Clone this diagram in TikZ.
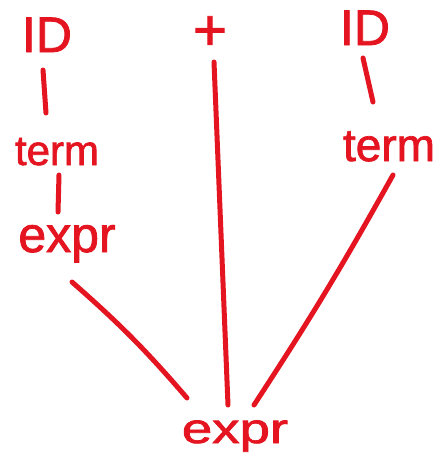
\documentclass[tikz,border=0pt]{standalone}
\usepackage{fontspec}
\setmainfont{Liberation Sans}[BoldFont=Liberation Sans,BoldFeatures={FakeBold=1.6}]
\usetikzlibrary{calc}
\definecolor{ink}{RGB}{228,20,32}
\begin{document}
\begin{tikzpicture}[x=1pt,y=-1pt,
  sym/.style={text=ink,inner sep=0pt,anchor=base},
  edge/.style={draw=ink,line width=5pt,line cap=round}]
\useasboundingbox (0,0) rectangle (441,464);

% leaves and inner symbols of the parse tree
\node[sym,font=\fontsize{50}{50}\selectfont\bfseries] (id1) at (47,52) {ID};
\node[sym,font=\fontsize{58}{58}\selectfont\bfseries,anchor=center] (plus) at (210,33) {+};
\node[sym,font=\fontsize{50}{50}\selectfont\bfseries] (id2) at (365,45) {ID};
\node[sym,font=\fontsize{42}{42}\selectfont\bfseries] (term1) at (57,165) {term};
\node[sym,font=\fontsize{46}{46}\selectfont\bfseries] (term2) at (389,161) {term};
\node[sym,font=\fontsize{50}{50}\selectfont\bfseries] (expr1) at (67,252) {expr};
\node[sym,font=\fontsize{42}{42}\selectfont\bfseries] (expr0) at (235,443) {\scalebox{1.3}[1]{expr}};

% connectors
\draw[edge] ([shift={(-4,18)}]id1.base) -- ([shift={(-11,-52)}]term1.base);
\draw[edge] ([shift={(2,10)}]term1.base) -- ([shift={(-9,-40)}]expr1.base);
\draw[edge] ([shift={(5,30)}]expr1.base) to[bend left=4] ([shift={(-48,-45)}]expr0.base);
\draw[edge] ([shift={(4,29)}]plus.center) -- ([shift={(-7,-38)}]expr0.base);
\draw[edge] ([shift={(-2,13)}]id2.base) -- ([shift={(-16,-59)}]term2.base);
\draw[edge] ([shift={(4,14)}]term2.base) to[bend left=2] ([shift={(19,-38)}]expr0.base);
\end{tikzpicture}
\end{document}
